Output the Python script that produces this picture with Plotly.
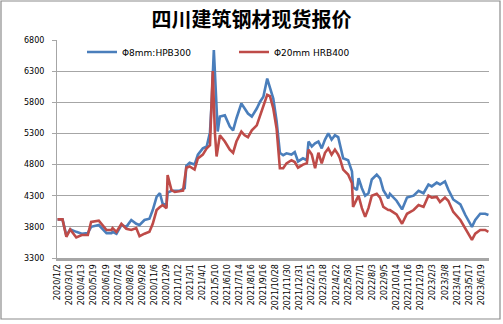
import plotly.graph_objects as go

# Trading-day index of each sampled quote and the price (元/吨)
hpb300_day = [0, 9, 16, 23, 34, 44, 55, 61, 75, 89, 98, 100, 107, 116, 125, 134, 143, 149,
              158, 167, 173, 180, 186, 191, 198, 200, 207, 222, 231, 234, 240, 249, 255, 264,
              271, 277, 280, 284, 288, 291, 295, 304, 313, 319, 325, 334, 340, 346, 353, 362,
              368, 374, 381, 386, 392, 398, 404, 410, 416, 425, 431, 437, 446, 453, 456, 462,
              468, 474, 480, 486, 492, 498, 504, 510, 513, 519, 528, 535, 537, 544, 547, 553,
              559, 565, 571, 580, 586, 592, 601, 604, 616, 626, 635, 647, 656, 665, 674, 680,
              689, 695, 704, 710, 719, 732, 741, 753, 759, 768, 777, 783]
hpb300_price = [3920, 3920, 3660, 3760, 3720, 3690, 3700, 3800, 3830, 3700, 3700, 3720, 3690, 3830,
                3800, 3910, 3850, 3830, 3910, 3930, 4070, 4280, 4340, 4170, 4150, 4350, 4380, 4380,
                4420, 4780, 4830, 4800, 4960, 5060, 5090, 5320, 5800, 6640, 5900, 5330, 5570, 5590,
                5410, 5350, 5540, 5780, 5700, 5620, 5570, 5700, 5810, 5890, 6180, 6050, 5860, 5500,
                4990, 4950, 4980, 4960, 5000, 4850, 4900, 4870, 5170, 5090, 5140, 5170, 5060, 5200,
                5300, 5200, 5270, 5240, 5130, 4900, 4870, 4690, 4440, 4390, 4580, 4420, 4300, 4340,
                4560, 4640, 4580, 4390, 4260, 4330, 4220, 4080, 4270, 4300, 4380, 4340, 4480, 4450,
                4510, 4480, 4530, 4400, 4240, 4160, 3990, 3800, 3910, 4010, 4010, 3990]

hrb400_day = [0, 9, 16, 23, 34, 44, 55, 61, 75, 89, 98, 100, 107, 116, 125, 134, 143, 149,
              158, 167, 173, 180, 186, 191, 198, 200, 207, 213, 228, 234, 240, 249, 255, 264,
              271, 277, 282, 286, 289, 295, 304, 313, 319, 325, 334, 340, 346, 353, 362,
              368, 374, 381, 386, 392, 398, 404, 410, 416, 425, 431, 437, 446, 453, 456, 462,
              468, 474, 480, 486, 492, 498, 504, 510, 513, 519, 528, 535, 537, 544, 547, 553,
              559, 565, 571, 580, 586, 592, 601, 604, 616, 626, 635, 647, 656, 665, 674, 680,
              689, 695, 704, 710, 719, 732, 741, 753, 759, 768, 777, 783]
hrb400_price = [3920, 3920, 3640, 3760, 3630, 3670, 3670, 3880, 3900, 3750, 3750, 3780, 3720, 3850,
                3770, 3750, 3780, 3650, 3690, 3720, 3850, 4070, 4120, 4150, 4100, 4630, 4390, 4360,
                4380, 4750, 4770, 4720, 4900, 4960, 5060, 5110, 6300, 5300, 4930, 5270, 5170,
                5040, 4990, 5170, 5330, 5270, 5240, 5350, 5430, 5590, 5730, 5920, 5900, 5700, 5380,
                4740, 4740, 4820, 4870, 4840, 4750, 4800, 4820, 5040, 4960, 4740, 4990, 4820, 4990,
                5060, 4960, 5040, 4960, 4900, 4720, 4640, 4500, 4120, 4250, 4300, 4100, 3960, 4100,
                4300, 4330, 4270, 4120, 4070, 4070, 4000, 3850, 4010, 4070, 4150, 4120, 4300, 4270,
                4280, 4200, 4270, 4220, 4040, 3910, 3770, 3590, 3690, 3750, 3750, 3720]

date_labels = ["2020/1/2", "2020/3/10", "2020/4/13", "2020/5/19", "2020/6/19", "2020/7/24",
               "2020/8/26", "2020/9/28", "2020/11/6", "2020/12/9", "2021/1/12", "2021/3/1",
               "2021/4/1", "2021/5/10", "2021/6/10", "2021/7/14", "2021/8/16", "2021/9/16",
               "2021/10/28", "2021/11/30", "2021/12/31", "2022/2/15", "2022/3/18", "2022/4/22",
               "2022/5/30", "2022/7/1", "2022/8/3", "2022/9/5", "2022/10/14", "2022/11/16",
               "2022/12/19", "2023/2/3", "2023/3/8", "2023/4/11", "2023/5/17", "2023/6/19"]
label_step = 22
label_pos = [i * label_step for i in range(len(date_labels))]

BLUE = "#4a7ebb"
RED = "#be4b48"

fig = go.Figure()
fig.add_trace(go.Scatter(x=hpb300_day, y=hpb300_price, mode="lines", name="Φ8mm:HPB300",
                         line=dict(color=BLUE, width=2.6)))
fig.add_trace(go.Scatter(x=hrb400_day, y=hrb400_price, mode="lines", name="Φ20mm HRB400",
                         line=dict(color=RED, width=2.6)))

L, R, T, B = 57, 14, 40, 66
W, H = 503, 324
pw, ph = W - L - R, H - T - B

def px_x(px):
    return (px - L) / pw

def px_y(py):
    return (H - B - py) / ph

fig.update_layout(
    width=W, height=H,
    margin=dict(l=L, r=R, t=T, b=B),
    paper_bgcolor="white", plot_bgcolor="white",
    title=dict(text="<b>四川建筑钢材现货报价</b>", x=0.5, xanchor="center", y=1 - 20 / H,
               yanchor="middle",
               font=dict(family="Noto Sans CJK SC", size=20, color="#000000")),
    showlegend=True,
    legend=dict(orientation="h", x=px_x(82), y=px_y(52), xanchor="left", yanchor="middle",
                bgcolor="rgba(0,0,0,0)", font=dict(family="DejaVu Sans", size=9, color="#000"),
                itemwidth=30, tracegroupgap=0, entrywidth=107),
    font=dict(family="DejaVu Sans", size=8, color="#000"),
    shapes=[dict(type="rect", xref="paper", yref="paper",
                 x0=px_x(1), x1=px_x(500), y0=px_y(319), y1=px_y(1),
                 line=dict(color="#8c8c8c", width=1.2), fillcolor="rgba(0,0,0,0)", layer="below")],
)

fig.update_xaxes(range=[-1, 784], tickmode="array", tickvals=label_pos, ticktext=date_labels,
                 tickangle=-90, tickfont=dict(family="DejaVu Sans", size=8, color="#000"),
                 showgrid=False, zeroline=False, showline=True, linecolor="#a6a6a6",
                 linewidth=3, ticks="", ticklen=0)
fig.update_yaxes(range=[3300, 6800], dtick=500, tick0=3300,
                 tickfont=dict(family="DejaVu Sans", size=8, color="#000"),
                 showgrid=True, gridcolor="#a6a6a6", gridwidth=1,
                 zeroline=False, showline=True, linecolor="#a6a6a6", linewidth=1,
                 ticks="outside", ticklen=4, tickcolor="#a6a6a6", ticklabelstandoff=6)

fig.write_html("out.html")
